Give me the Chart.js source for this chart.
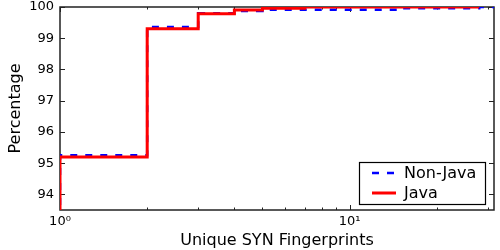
<!DOCTYPE html>
<html>
<head>
<meta charset="utf-8">
<script src="https://cdn.jsdelivr.net/npm/chart.js@4"></script>
<style>
html,body{margin:0;padding:0;background:#fff;}
#wrap{width:500px;height:250px;position:relative;}
</style>
</head>
<body>
<div id="wrap"><canvas id="c" width="500" height="250"></canvas></div>
<script>
// ---- data ----
const javaX    = [1, 1, 2, 3, 4, 5, 7, 28];
const javaY    = [0, 95.2, 99.3, 99.78, 99.9, 99.96, 100, 100];
const nonJavaX = [1, 1, 2, 3, 4, 5, 15, 28, 31.5];
const nonJavaY = [0, 95.25, 99.36, 99.8, 99.87, 99.91, 99.96, 100, 100];
const yTicks   = [94, 95, 96, 97, 98, 99, 100];
const xMajorTicks = [1, 10];
const xMinorTicks = [2, 3, 4, 5, 6, 7, 8, 9, 20, 30];
const xTickLabels = ['10\u2070', '10\u00B9'];
const seriesNames = ['Non-Java', 'Java'];

const FONT = "'DejaVu Sans', sans-serif";
const toPts = (xs, ys) => xs.map((x, i) => ({x: x, y: ys[i]}));

const framePlugin = {
  id: 'frame',
  beforeDatasetsDraw(chart) {
    const {ctx, chartArea: a, scales: {x, y}} = chart;
    ctx.save();
    ctx.strokeStyle = '#222';
    ctx.lineWidth = 1.5;
    ctx.strokeRect(a.left, a.top, a.right - a.left, a.bottom - a.top);
    ctx.lineWidth = 1;
    ctx.beginPath();
    yTicks.forEach(v => {
      const p = Math.round(y.getPixelForValue(v)) + 0.5;
      ctx.moveTo(a.left, p); ctx.lineTo(a.left + 5, p);
      ctx.moveTo(a.right, p); ctx.lineTo(a.right - 5, p);
    });
    xMajorTicks.forEach(v => {
      const p = Math.round(x.getPixelForValue(v)) + 0.5;
      ctx.moveTo(p, a.bottom); ctx.lineTo(p, a.bottom - 5);
      ctx.moveTo(p, a.top); ctx.lineTo(p, a.top + 5);
    });
    xMinorTicks.forEach(v => {
      const p = Math.round(x.getPixelForValue(v)) + 0.5;
      ctx.moveTo(p, a.bottom); ctx.lineTo(p, a.bottom - 2.5);
      ctx.moveTo(p, a.top); ctx.lineTo(p, a.top + 2.5);
    });
    ctx.stroke();
    ctx.restore();
  },
  afterDatasetsDraw(chart) {
    const {ctx} = chart;
    const ds = chart.data.datasets;
    ctx.save();
    ctx.fillStyle = '#fff';
    ctx.strokeStyle = '#000';
    ctx.lineWidth = 1.2;
    ctx.fillRect(359.5, 162.5, 126, 42);
    ctx.strokeRect(359.5, 162.5, 126, 42);
    const entries = [
      {name: seriesNames[0], d: ds[1], y: 173, ty: 178},
      {name: seriesNames[1], d: ds[0], y: 193, ty: 198}
    ];
    entries.forEach(e => {
      ctx.beginPath();
      ctx.strokeStyle = e.d.borderColor;
      ctx.lineWidth = e.d.borderWidth;
      ctx.setLineDash(e.d.borderDash || []);
      ctx.moveTo(372, e.y); ctx.lineTo(396, e.y);
      ctx.stroke();
      ctx.setLineDash([]);
      ctx.fillStyle = '#000';
      ctx.font = '16px ' + FONT;
      ctx.textBaseline = 'alphabetic';
      ctx.textAlign = 'left';
      ctx.fillText(e.name, 404, e.ty);
    });
    ctx.restore();
  }
};

new Chart(document.getElementById('c'), {
  type: 'line',
  data: {
    datasets: [
      {label: seriesNames[1], data: toPts(javaX, javaY), borderColor: '#ff0000',
       borderWidth: 3, stepped: 'before', pointRadius: 0, fill: false},
      {label: seriesNames[0], data: toPts(nonJavaX, nonJavaY), borderColor: '#0000ff',
       borderWidth: 2.5, borderDash: [7, 8], stepped: 'before', pointRadius: 0, fill: false}
    ]
  },
  options: {
    responsive: false,
    animation: false,
    events: [],
    layout: {padding: {top: 7, right: 6, left: 0, bottom: 0}},
    plugins: {legend: {display: false}, tooltip: {enabled: false}},
    scales: {
      x: {
        type: 'logarithmic', min: 1, max: 31.5,
        grid: {display: false, drawTicks: false},
        border: {display: false},
        afterBuildTicks: s => { s.ticks = xMajorTicks.map(v => ({value: v, major: true})); },
        afterFit: s => { s.height = 40; s.paddingLeft = 0; s.paddingRight = 0; },
        ticks: {
          autoSkip: false, maxRotation: 0, padding: 4, color: '#000',
          font: {family: FONT, size: 13},
          callback: v => { const i = xMajorTicks.indexOf(v); return i >= 0 ? xTickLabels[i] : ''; }
        },
        title: {display: true, text: 'Unique SYN Fingerprints', color: '#000',
                font: {family: FONT, size: 16}, padding: {top: 0, bottom: 0}}
      },
      y: {
        type: 'linear', min: 93.5, max: 100,
        grid: {display: false, drawTicks: false},
        border: {display: false},
        afterBuildTicks: s => { s.ticks = yTicks.map(v => ({value: v})); },
        afterFit: s => { s.width = 60; s.paddingTop = 0; s.paddingBottom = 0; },
        ticks: {padding: 6, color: '#000', font: {family: FONT, size: 13},
                callback: v => String(v)},
        title: {display: true, text: 'Percentage', color: '#000',
                font: {family: FONT, size: 16}, padding: {top: 6, bottom: 0}}
      }
    }
  },
  plugins: [framePlugin]
});
</script>
</body>
</html>
